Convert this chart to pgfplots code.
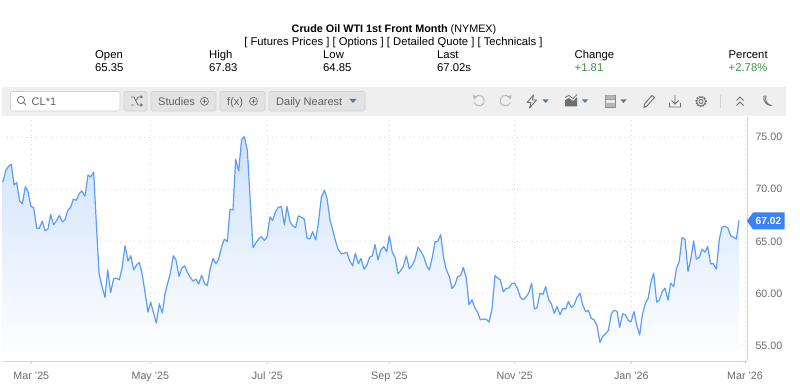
\documentclass[border=0pt]{standalone}
\usepackage{pgfplots}
\pgfplotsset{compat=1.18}
\usepackage{pgfplotstable}
\usepackage{fontspec}
\setmainfont{Liberation Sans}
\definecolor{lineblue}{HTML}{5B9CF9}
\definecolor{tagblue}{HTML}{3B82F6}
\definecolor{fillblue}{HTML}{CFE2FC}
\definecolor{gridc}{HTML}{D9D9D9}
\definecolor{axisc}{HTML}{D4D4D4}
\definecolor{labc}{HTML}{6A6A6A}
\definecolor{barbg}{HTML}{EFEFEF}
\definecolor{btnbg}{HTML}{E3E3E3}
\definecolor{btnbd}{HTML}{D2D2D2}
\definecolor{btntx}{HTML}{5F5F5F}
\definecolor{icon}{HTML}{6E6E6E}
\definecolor{iconl}{HTML}{B5B5B5}
\definecolor{arrowc}{HTML}{5D7693}
\definecolor{upgreen}{HTML}{3E9142}
\pgfplotstableread{
x v
6 70.74
10 70.81
17 71.80
25 72.18
34 72.41
42 70.42
50 70.65
59 68.89
67 68.60
76 70.26
84 69.78
93 68.34
101 68.25
110 66.26
118 66.26
127 66.94
135 66.01
144 66.20
152 67.58
161 66.58
170 67.00
178 67.48
187 66.87
195 67.06
203 67.96
212 68.28
220 69.05
229 68.95
237 69.56
245 69.85
255 69.34
264 71.38
272 71.19
281 71.64
289 66.74
297 61.94
306 60.66
315 59.61
323 62.26
332 60.09
341 61.43
349 61.46
358 61.30
366 62.42
375 64.57
384 63.10
392 63.61
401 62.26
410 62.74
418 62.97
426 61.94
434 60.34
444 58.20
452 59.16
461 58.10
469 57.14
478 59.00
487 58.10
495 59.96
503 60.98
511 61.94
520 63.61
528 63.22
537 61.62
545 62.42
554 62.65
562 62.01
571 61.53
579 61.18
588 61.37
596 60.89
605 61.75
614 60.92
622 60.76
631 62.42
639 63.35
648 62.84
656 63.29
665 64.50
673 65.21
682 64.98
690 68.09
699 68.02
707 72.89
716 71.77
725 74.81
733 75.06
742 73.78
750 69.30
759 64.38
767 64.82
776 65.21
784 65.46
793 65.08
801 65.40
810 67.35
818 67.00
827 67.86
835 68.28
844 68.34
853 66.58
861 68.34
870 66.90
878 66.49
887 66.33
895 67.45
904 67.32
913 67.13
921 65.30
930 65.24
938 65.94
947 65.14
955 66.74
964 69.24
973 69.91
981 69.14
990 67.06
998 66.10
1007 64.98
1015 64.18
1024 63.83
1032 63.86
1041 63.93
1049 63.13
1058 62.65
1066 63.86
1075 62.84
1083 63.35
1092 62.33
1100 62.65
1109 63.48
1117 63.61
1125 64.70
1134 63.22
1142 64.12
1151 64.50
1160 63.99
1168 65.53
1177 63.93
1185 63.48
1194 61.88
1200 62.10
1210 62.58
1219 63.61
1228 62.36
1237 62.71
1245 63.29
1254 64.44
1263 64.02
1271 63.54
1280 62.65
1288 62.26
1297 63.48
1305 64.95
1313 64.98
1322 65.66
1331 63.38
1339 62.26
1348 61.62
1356 60.47
1365 60.82
1373 61.62
1382 61.72
1390 62.49
1399 61.46
1407 58.90
1416 59.38
1425 58.58
1433 58.17
1441 57.46
1450 57.53
1459 57.50
1467 57.24
1476 58.49
1485 61.72
1493 61.46
1501 61.30
1510 60.15
1518 60.44
1527 60.54
1535 60.92
1544 60.98
1552 60.50
1561 59.64
1569 59.38
1578 59.64
1586 60.02
1595 60.98
1603 58.49
1611 58.62
1620 60.02
1629 59.90
1637 60.66
1646 59.38
1654 59.00
1663 58.07
1671 58.74
1680 57.94
1688 58.55
1697 58.49
1705 59.22
1714 58.65
1722 58.87
1731 59.61
1740 60.02
1748 58.90
1757 58.23
1765 58.36
1774 57.59
1782 57.46
1791 56.89
1800 55.29
1808 55.86
1817 56.12
1825 56.44
1834 58.04
1842 58.36
1851 58.30
1859 56.73
1868 58.04
1876 57.94
1885 57.40
1893 57.27
1902 58.26
1910 56.98
1919 55.99
1927 57.94
1936 59.06
1944 59.48
1953 61.11
1961 61.94
1970 59.16
1978 59.35
1987 60.18
1995 60.50
2004 59.35
2012 60.98
2021 60.66
2029 62.33
2038 63.13
2046 65.37
2055 65.21
2064 62.10
2072 63.22
2081 65.05
2089 63.29
2098 63.48
2106 64.25
2115 63.96
2123 64.50
2132 62.84
2140 62.84
2149 62.33
2158 65.21
2166 66.36
2175 66.46
2184 66.26
2192 65.53
2200 65.40
2209 65.21
2217 67.02
}\crude
\newcommand{\fs}[1]{\fontsize{#1}{#1}\selectfont}
\begin{document}
\begin{tikzpicture}
\useasboundingbox (0pt,0pt) rectangle (800pt,383pt);
\begin{axis}[
  at={(2pt,22pt)}, anchor=south west,
  scale only axis, width=745pt, height=244pt,
  xmin=6, xmax=2241, ymin=53.5, ymax=76.95,
  axis x line*=bottom, axis y line*=right,
  axis line style={-, draw=axisc, line width=0.9pt},
  xtick={94,451,802,1168,1544,1894,2235},
  xticklabels={Mar '25,May '25,Jul '25,Sep '25,Nov '25,Jan '26,Mar '26},
  ytick={55,60,65,70,75},
  yticklabel style={/pgf/number format/fixed,/pgf/number format/fixed zerofill,/pgf/number format/precision=2,/pgf/number format/assume math mode=true},
  tick label style={text=labc, font=\fs{10.7}},
  x tick label style={yshift=-4pt},
  y tick label style={xshift=5pt},
  major tick length=3pt,
  xtick align=outside,
  tick style={draw=axisc, line width=0.7pt},
  ytick style={draw=none},
  grid=major,
  major grid style={draw=gridc, line width=0.8pt, dash pattern=on 0.9pt off 4pt},
  clip=false,
]
\addplot[draw=none, top color=fillblue, bottom color=white, forget plot] table[x=x,y=v] {\crude} \closedcycle;
\addplot[color=lineblue, line width=1.2pt, line join=round, mark=none] table[x=x,y=v] {\crude};
\end{axis}
\begin{scope}[x=1pt,y=1pt]
% price tag
\fill[tagblue] (747,162) -- (753,170.5) -- (784.5,170.5) -- (784.5,153.5) -- (753,153.5) -- cycle;
\node[text=white,font=\fs{10.2}\bfseries] at (768.5,162) {67.02};
% header
\node[anchor=base west,font=\fs{10.8},inner sep=0pt] at (291.5,350.5) {\textbf{Crude Oil WTI 1st Front Month} (NYMEX)};
\node[anchor=base,font=\fs{11.25},inner sep=0pt] at (393.5,337.5) {[ Futures Prices ] [ Options ] [ Detailed Quote ] [ Technicals ]};
\foreach \x/\a/\b in {95/Open/65.35,209/High/67.83,323/Low/64.85,437/Last/67.02s}{
  \node[anchor=base west,font=\fs{11.3},inner sep=0pt] at (\x,324.5) {\a};
  \node[anchor=base west,font=\fs{11.3},inner sep=0pt] at (\x,311.5) {\b};
}
\foreach \x/\a/\b in {574.5/Change/+1.81,728.5/Percent/+2.78\%}{
  \node[anchor=base west,font=\fs{11.3},inner sep=0pt] at (\x,324.5) {\a};
  \node[anchor=base west,font=\fs{11.3},inner sep=0pt,text=upgreen] at (\x,311.5) {\b};
}
% toolbar
\fill[barbg] (2,266.5) rectangle (786,296);
\fill[white,draw=btnbd,line width=0.6pt,rounded corners=1.5pt] (10.5,272) rectangle (120,291.5);
\draw[icon,line width=0.8pt] (21,283) circle (3.6);
\draw[icon,line width=0.8pt] (23.6,280.4) -- (26,278);
\node[anchor=base west,font=\fs{11},text=btntx,inner sep=0pt] at (31.5,277.5) {CL*1};
\foreach \a/\b in {124/147,151/216,220/265,269/365}
  \fill[btnbg,draw=btnbd,line width=0.6pt,rounded corners=1.5pt] (\a,272) rectangle (\b,291.5);
% shuffle icon
\draw[icon,line width=0.8pt] (131,286) -- (134,286) -- (138,278) -- (141,278) (131,278) -- (134,278) (136.5,283) -- (138,286) -- (141,286);
\fill[icon] (143,286) -- (140.5,288) -- (140.5,284) -- cycle (143,278) -- (140.5,280) -- (140.5,276) -- cycle;
\node[anchor=base west,font=\fs{11},text=btntx,inner sep=0pt] at (158,277.5) {Studies};
\draw[btntx,line width=0.6pt] (204.5,281.7) circle (4) (202.5,281.7) -- (206.5,281.7) (204.5,279.7) -- (204.5,283.7);
\node[anchor=base west,font=\fs{11},text=btntx,inner sep=0pt] at (227,277.5) {f(x)};
\draw[btntx,line width=0.6pt] (253.5,281.7) circle (4) (251.5,281.7) -- (255.5,281.7) (253.5,279.7) -- (253.5,283.7);
\node[anchor=base west,font=\fs{11},text=btntx,inner sep=0pt] at (276,277.5) {Daily Nearest};
\fill[arrowc] (349.5,284) -- (356.5,284) -- (353,280) -- cycle;
% undo / redo
\draw[iconl,line width=0.9pt] (474.5,285) arc (150:-160:5.3);
\fill[iconl] (473,288) -- (477.5,286.6) -- (473.8,283.5) -- cycle;
\draw[iconl,line width=0.9pt] (510,285) arc (30:340:5.3);
\fill[iconl] (511.5,288) -- (507,286.6) -- (510.7,283.5) -- cycle;
% bolt
\draw[icon,line width=0.9pt,line join=round] (533.5,288) -- (527,280.5) -- (531,280.5) -- (529.5,275) -- (536.5,283) -- (532.5,283) -- cycle;
\fill[arrowc] (542.5,283.5) -- (548.5,283.5) -- (545.5,280) -- cycle;
% area chart
\fill[icon] (565,276.5) -- (565,283) -- (569,285) -- (573,282) -- (577,286) -- (577,276.5) -- cycle;
\draw[icon,line width=0.7pt] (565,285.5) -- (569,287.5) -- (573,284.5) -- (577,288.5);
\fill[arrowc] (582,283.5) -- (588,283.5) -- (585,280) -- cycle;
% layout
\draw[icon!80,line width=0.7pt] (605.5,287.5) rectangle (615,283.5) (605.5,283.5) rectangle (615,280) (605.5,280) rectangle (615,276);
\fill[icon!50] (605.5,287.5) rectangle (615,283.5) (605.5,280) rectangle (615,276);
\fill[arrowc] (620.5,283.5) -- (626.5,283.5) -- (623.5,280) -- cycle;
% pencil
\draw[icon,line width=0.9pt,line join=round] (644,275.5) -- (644.5,279) -- (652,287.5) -- (654.5,285.5) -- (647,277) -- cycle;
% download
\draw[icon,line width=0.9pt] (675,288) -- (675,279) (671.5,282.5) -- (675,279) -- (678.5,282.5) (669.5,280) -- (669.5,276) -- (680.5,276) -- (680.5,280);
% gear
\draw[icon,line width=0.9pt] (701,281.5) circle (2);
\draw[icon,line width=1.2pt,dash pattern=on 1.5pt off 1.35pt] (701,281.5) circle (5.2);
\draw[icon,line width=0.7pt] (701,281.5) circle (4.4);
% separator
\draw[btnbd,line width=0.8pt] (720.5,275) -- (720.5,288);
% double chevrons
\draw[icon,line width=0.9pt] (736.5,282.5) -- (740,286) -- (743.5,282.5) (736.5,277.5) -- (740,281) -- (743.5,277.5);
% moon
\draw[icon,line width=0.9pt,line join=round] (766,287) arc (90:-60:0.1) to[bend right=55] (771.5,277.5) to[bend left=60] (764,287) -- cycle;
\end{scope}
\end{tikzpicture}
\end{document}
